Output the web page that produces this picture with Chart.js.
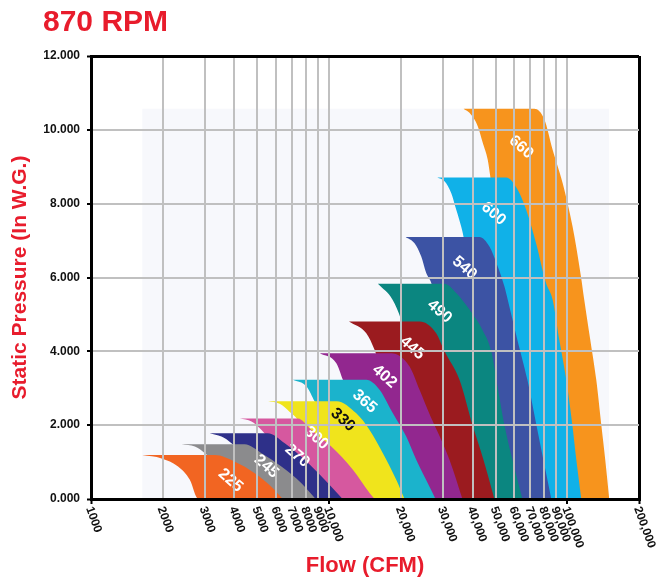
<!DOCTYPE html>
<html><head><meta charset="utf-8">
<script src="https://cdn.jsdelivr.net/npm/chart.js@4"></script>
<style>html,body{margin:0;padding:0;background:#fff}#wrap{width:666px;height:582px;position:relative}</style>
</head><body><div id="wrap"><canvas id="c" width="666" height="582"></canvas></div>
<script>
const chartTitle = '870 RPM';
const xAxisTitle = 'Flow (CFM)';
const yAxisTitle = 'Static Pressure (In W.G.)';

const xTickValues = [1000,2000,3000,4000,5000,6000,7000,8000,9000,10000,20000,30000,40000,50000,60000,70000,80000,90000,100000,200000];
const xTickLabels = ['1000','2000','3000','4000','5000','6000','7000','8000','9000','10,000','20,000','30,000','40,000','50,000','60,000','70,000','80,000','90,000','100,000','200,000'];
const yTickValues = [0,2,4,6,8,10,12];

const bandNames = ['225','245','270','300','330','365','402','445','490','540','600','660'];
const bandColors = ['#f26522','#8b8b8d','#2e3089','#d6589f','#f0e41c','#1bb3cc','#92278f','#9b1b1f','#0b8680','#3c53a4','#10b1e8','#f7941d'];
const bandLabelColors = ['#fff','#fff','#fff','#fff','#111','#fff','#fff','#fff','#fff','#fff','#fff','#fff'];
const bandLabelX = [3850,5450,7340,8840,11420,14090,17090,22330,29060,37000,48950,63970];
const bandLabelY = [0.50,0.88,1.17,1.65,2.14,2.64,3.32,4.09,5.08,6.26,7.73,9.53];

// upper outline (tip -> flat top -> right curve down to 0)  and lower outline (tip -> left edge -> along 0)
const fan225Top  = [[1640,1.19],[3310,1.19],[4020,1.01],[4870,0.70],[5720,0.33],[6380,0]];
const fan225Edge = [[1640,1.19],[1980,1.10],[2320,0.88],[2600,0.52],[2820,0],[6380,0]];
const fan245Top  = [[2400,1.48],[4420,1.48],[5200,1.24],[6300,0.88],[7650,0.43],[8780,0]];
const fan245Edge = [[2400,1.48],[2730,1.42],[3010,1.24],[3310,1.00],[3650,0.65],[3940,0],[8780,0]];
const fan270Top  = [[3150,1.78],[5520,1.78],[6510,1.51],[7890,1.06],[9580,0.52],[11390,0]];
const fan270Edge = [[3150,1.78],[3530,1.69],[3890,1.51],[4220,1.28],[4640,0.79],[5020,0],[11390,0]];
const fan300Top  = [[4220,2.18],[7380,2.18],[8420,1.87],[10210,1.42],[12580,0.79],[14780,0.16],[15510,0]];
const fan300Edge = [[4220,2.18],[4720,2.10],[5200,1.87],[5630,1.60],[6200,1.06],[6830,0],[15510,0]];
const fan330Top  = [[5540,2.65],[10750,2.65],[13000,2.32],[14780,1.87],[16810,1.24],[19130,0.52],[20730,0]];
const fan330Edge = [[5540,2.65],[6200,2.58],[6830,2.36],[7380,2.14],[8280,1.33],[9130,0],[20730,0]];
const fan365Top  = [[7050,3.23],[14320,3.23],[16280,2.96],[18520,2.32],[21070,1.69],[23210,1.06],[26390,0.33],[27960,0]];
const fan365Edge = [[7050,3.23],[8030,3.05],[8700,2.64],[9580,2.14],[11070,1.06],[12190,0],[27960,0]];
const fan402Top  = [[9130,3.95],[18230,3.95],[21760,3.59],[23960,2.96],[26600,2.25],[29300,1.66],[32010,1.06],[36280,0]];
const fan402Edge = [[9130,3.95],[10720,3.68],[11420,3.23],[12790,2.41],[14780,1.33],[16280,0],[36280,0]];
const fan445Top  = [[12110,4.81],[23960,4.81],[28150,4.49],[30500,4.00],[35260,3.23],[39980,2.01],[44450,1.06],[49420,0]];
const fan445Edge = [[12110,4.81],[14320,4.49],[15510,4.04],[17090,3.23],[19750,1.87],[21760,0],[49420,0]];
const fan490Top  = [[16020,5.83],[30500,5.83],[34150,5.58],[38830,5.13],[44020,4.58],[48010,3.99],[50390,3.23],[54420,2.01],[58820,1.06],[64780,0]];
const fan490Edge = [[16020,5.83],[18460,5.40],[20070,4.85],[22180,3.77],[25150,2.14],[28510,0],[64780,0]];
const fan540Top  = [[20930,7.10],[42760,7.10],[47100,6.84],[51030,6.30],[54420,5.76],[56210,5.40],[61720,4.31],[67980,3.23],[74130,2.01],[79330,1.06],[85680,0]];
const fan540Edge = [[20930,7.10],[22830,6.93],[24360,6.57],[25560,6.12],[26910,5.83],[29060,4.85],[32010,3.23],[35940,0],[85680,0]];
const fan600Top  = [[28430,8.71],[55340,8.71],[61890,8.38],[67120,7.84],[73930,6.93],[81410,5.85],[86770,5.40],[92580,4.31],[99030,3.23],[104960,2.01],[109100,1.06],[114500,0]];
const fan600Edge = [[28430,8.71],[30500,8.61],[32540,8.29],[34150,7.84],[35840,7.38],[36640,7.11],[38830,5.94],[42760,4.04],[47100,2.14],[51870,0],[114500,0]];
const fan660Top  = [[36640,10.57],[72700,10.57],[80090,10.28],[86770,9.46],[95560,8.56],[105200,7.38],[114100,6.03],[117800,5.40],[124900,4.31],[132300,3.23],[138900,2.01],[144300,1.06],[150000,0]];
const fan660Edge = [[36640,10.57],[38830,10.46],[42060,10.10],[44150,9.65],[46330,9.19],[47550,8.71],[51870,7.02],[57130,4.85],[62910,2.69],[69290,0],[150000,0]];
const envelopeTop = [[1640,10.57],[150000,10.57]];

const bandTops  = [fan225Top,fan245Top,fan270Top,fan300Top,fan330Top,fan365Top,fan402Top,fan445Top,fan490Top,fan540Top,fan600Top,fan660Top];
const bandEdges = [fan225Edge,fan245Edge,fan270Edge,fan300Edge,fan330Edge,fan365Edge,fan402Edge,fan445Edge,fan490Edge,fan540Edge,fan600Edge,fan660Edge];

const FONT = '"Liberation Sans", Arial, Helvetica, sans-serif';
const RED = '#e81c2c';
const toPts = a => a.map(([x, y]) => ({x, y}));

const datasets = [];
bandNames.forEach((n, i) => {
  datasets.push({label: n, data: toPts(bandTops[i]), backgroundColor: bandColors[i], borderColor: 'transparent',
    borderWidth: 0, pointRadius: 0, fill: '+1', cubicInterpolationMode: 'monotone'});
  datasets.push({label: n + ' edge', data: toPts(bandEdges[i]), backgroundColor: bandColors[i], borderColor: 'transparent',
    borderWidth: 0, pointRadius: 0, fill: false, cubicInterpolationMode: 'monotone'});
});
datasets.push({label: 'envelope', data: toPts(envelopeTop), backgroundColor: '#f7f8fc', borderColor: 'transparent',
  borderWidth: 0, pointRadius: 0, fill: 'origin'});

const decades = [1000, 10000, 100000, 200000];

const textPlugin = {
  id: 'texts',
  afterDatasetsDraw(chart) {
    const {ctx, scales: {x, y}} = chart;
    ctx.save();
    ctx.font = 'bold 16px ' + FONT;
    ctx.textAlign = 'center';
    ctx.textBaseline = 'middle';
    bandNames.forEach((n, i) => {
      ctx.save();
      ctx.translate(x.getPixelForValue(bandLabelX[i]), y.getPixelForValue(bandLabelY[i]));
      ctx.rotate(41 * Math.PI / 180);
      ctx.fillStyle = bandLabelColors[i];
      ctx.fillText(n, 0, 0);
      ctx.restore();
    });
    ctx.restore();
  },
  afterDraw(chart) {
    const {ctx, chartArea, scales: {x}} = chart;
    ctx.save();
    ctx.fillStyle = RED;
    ctx.font = 'bold 30px ' + FONT;
    ctx.textAlign = 'left';
    ctx.textBaseline = 'alphabetic';
    ctx.fillText(chartTitle, 43, 31);
    ctx.fillStyle = '#111';
    ctx.font = 'bold 12px ' + FONT;
    ctx.textBaseline = 'middle';
    xTickValues.forEach((v, i) => {
      ctx.save();
      ctx.translate(x.getPixelForValue(v) - 2, chartArea.bottom + 8);
      ctx.rotate(70 * Math.PI / 180);
      ctx.fillText(xTickLabels[i], 0, 0);
      ctx.restore();
    });
    ctx.restore();
  }
};

new Chart(document.getElementById('c'), {
  type: 'line',
  data: {datasets},
  plugins: [textPlugin],
  options: {
    responsive: false,
    animation: false,
    devicePixelRatio: 1,
    layout: {padding: {left: 0, right: 27, top: 56, bottom: 0}},
    plugins: {legend: {display: false}, tooltip: {enabled: false}, title: {display: false}},
    scales: {
      x: {
        type: 'logarithmic', min: 1000, max: 200000,
        afterBuildTicks: s => { s.ticks = xTickValues.map(v => ({value: v})); },
        afterFit: s => { s.height = 83; },
        ticks: {display: false, callback: () => ''},
        grid: {
          z: 1,
          color: c => (c.tick && (c.tick.value === 200000 || c.tick.value === 1000)) ? '#000' : '#c0c0c0',
          lineWidth: c => (c.tick && (c.tick.value === 200000 || c.tick.value === 1000)) ? 3 : 2,
          drawTicks: true, tickLength: 5,
          tickColor: c => (c.tick && decades.includes(c.tick.value)) ? '#000' : 'rgba(0,0,0,0)',
          tickWidth: 2
        },
        border: {display: true, color: '#000', width: 3, z: 2},
        title: {display: true, text: xAxisTitle, color: RED, font: {family: FONT, size: 22, weight: 'bold'},
          padding: {top: 0, bottom: 3}}
      },
      y: {
        type: 'linear', min: 0, max: 12,
        afterBuildTicks: s => { s.ticks = yTickValues.map(v => ({value: v})); },
        afterFit: s => { s.width = 91; },
        ticks: {color: '#111', font: {family: FONT, size: 12, weight: 'bold'}, padding: 7,
          callback: v => Number(v).toFixed(3)},
        grid: {
          z: 1,
          color: c => (c.tick && (c.tick.value === 12 || c.tick.value === 0)) ? '#000' : '#c0c0c0',
          lineWidth: c => (c.tick && (c.tick.value === 12 || c.tick.value === 0)) ? 3 : 2,
          drawTicks: true, tickLength: 4, tickColor: '#000', tickWidth: 2
        },
        border: {display: true, color: '#000', width: 3, z: 2},
        title: {display: true, text: yAxisTitle, color: RED, font: {family: FONT, size: 21, weight: 'bold'},
          padding: {top: 8, bottom: 0}}
      }
    }
  }
});
</script>
</body></html>
